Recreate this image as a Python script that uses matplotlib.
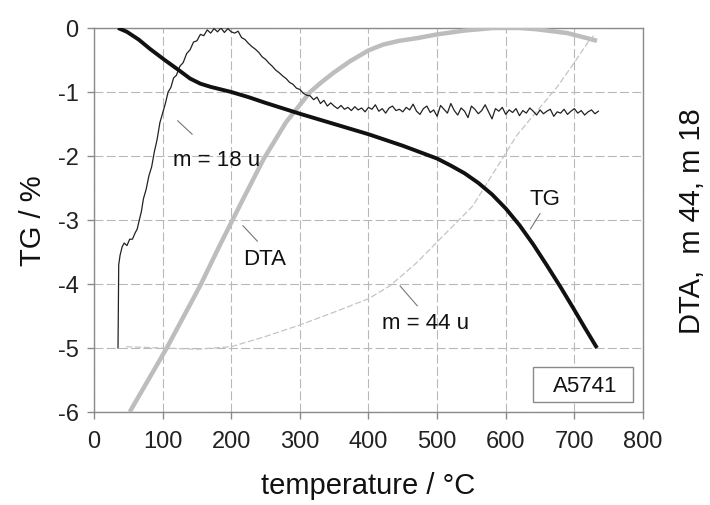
import matplotlib
matplotlib.use("Agg")
import matplotlib.pyplot as plt
from matplotlib.patches import Rectangle

plt.rcParams['font.family'] = ['Liberation Sans', 'DejaVu Sans']
plt.rcParams['axes.unicode_minus'] = False

# TG curve (left axis, %)
tg_temp = [35, 48, 65, 82, 103, 125, 140, 155, 170, 185, 200, 225, 250, 300, 350, 400, 450, 500,
           520, 540, 560, 580, 600, 620, 640, 660, 680, 698, 715, 733]
tg = [0.0, -0.06, -0.18, -0.33, -0.5, -0.67, -0.79, -0.87, -0.92, -0.96, -1.0, -1.08, -1.17, -1.34, -1.5, -1.66, -1.84, -2.04,
      -2.15, -2.27, -2.42, -2.6, -2.82, -3.08, -3.38, -3.71, -4.05, -4.37, -4.68, -5.0]

# DTA curve (arbitrary units, plotted in same frame)
dta_temp = [52, 106, 155, 184, 216, 247, 280, 315, 330, 349, 373, 400, 421, 445, 470, 500, 540, 582, 620, 645, 690, 733]
dta = [-6.0, -5.0, -4.02, -3.38, -2.7, -2.05, -1.47, -1.0, -0.86, -0.7, -0.52, -0.35, -0.26, -0.2, -0.16, -0.1, -0.04, 0.0, 0.0, -0.02, -0.08, -0.2]

# m = 44 u ion current
m44_temp = [47, 100, 150, 200, 250, 300, 350, 400, 431, 470, 504, 530, 552, 580, 616, 650, 675, 700, 720, 728]
m44 = [-4.98, -5.0, -5.02, -4.98, -4.82, -4.64, -4.44, -4.23, -4.03, -3.67, -3.3, -3.02, -2.78, -2.3, -1.68, -1.24, -0.92, -0.54, -0.22, -0.12]

# m = 18 u ion current (noisy)
m18_temp = [35, 35.5, 36, 38, 41, 44, 48, 52, 56, 60, 63, 66, 69, 72, 76, 80, 84, 88, 92, 96,
            100, 104, 108, 112, 116, 120, 125, 130, 135, 140, 145, 150, 155, 160, 165, 170, 175, 180, 185, 190,
            195, 200, 205, 210, 215, 220, 225, 230, 235, 240, 245, 250, 255, 260, 265, 270, 275, 280, 285, 290,
            295, 300, 305, 310, 315, 320, 325, 330, 335, 340, 345,
            350, 355, 360, 365, 370, 375, 380, 385, 390, 395,
            400, 405, 410, 415, 420, 425, 430, 435, 440, 445,
            450, 455, 460, 465, 470, 475, 480, 485, 490, 495,
            500, 505, 510, 515, 520, 525, 530, 535, 540, 545,
            550, 555, 560, 565, 570, 575, 580, 585, 590, 595,
            600, 605, 610, 615, 620, 625, 630, 635, 640, 645,
            650, 655, 660, 665, 670, 675, 680, 685, 690, 695,
            700, 705, 710, 715, 720, 725, 730, 735]
m18 = [-5.0, -4.3, -3.7, -3.55, -3.42, -3.36, -3.4, -3.3, -3.3, -3.2, -3.14, -3.0, -2.87, -2.67, -2.52, -2.31, -2.17, -1.93, -1.74, -1.48,
       -1.33, -1.18, -1.0, -0.93, -0.78, -0.74, -0.6, -0.54, -0.4, -0.34, -0.22, -0.2, -0.1, -0.12, -0.03, -0.08, -0.01, -0.06, 0.0, -0.07,
       -0.01, -0.06, -0.08, -0.05, -0.15, -0.18, -0.24, -0.29, -0.33, -0.38, -0.45, -0.49, -0.55, -0.6, -0.66, -0.7, -0.75, -0.79, -0.85, -0.88,
       -0.94, -0.96, -1.02, -1.05, -1.06, -1.12, -1.08, -1.18, -1.13, -1.22, -1.17,
       -1.22, -1.26, -1.21, -1.27, -1.24, -1.29, -1.23, -1.28, -1.25, -1.31,
       -1.24, -1.27, -1.20, -1.30, -1.26, -1.33, -1.25, -1.22, -1.29, -1.27,
       -1.31, -1.24, -1.28, -1.19, -1.30, -1.35, -1.26, -1.22, -1.32, -1.28,
       -1.38, -1.21, -1.27, -1.33, -1.18, -1.29, -1.36, -1.25, -1.30, -1.40,
       -1.22, -1.27, -1.34, -1.29, -1.20, -1.31, -1.42, -1.26, -1.30, -1.24,
       -1.35, -1.28, -1.32, -1.26, -1.37, -1.29, -1.33, -1.25, -1.30, -1.36,
       -1.28, -1.34, -1.30, -1.27, -1.38, -1.31, -1.33, -1.27, -1.35, -1.30,
       -1.26, -1.33, -1.29, -1.36, -1.31, -1.28, -1.34, -1.30]

fig = plt.figure(figsize=(7.1, 5.06), dpi=100)
ax = fig.add_axes([0.1324, 0.1838, 0.7732, 0.7589])

ax.plot(dta_temp, dta, color='#bdbdbd', lw=3.2, solid_capstyle='butt', zorder=3)
ax.plot(m44_temp, m44, color='#c4c4c4', lw=0.9, ls=(0, (5, 2)), zorder=3)
ax.plot(m18_temp, m18, color='#222222', lw=0.9, zorder=4)
ax.plot(tg_temp, tg, color='#111111', lw=2.8, solid_capstyle='butt', zorder=5)

ax.set_xlim(0, 800)
ax.set_ylim(-6, 0)
ax.set_xticks(range(0, 801, 100))
ax.set_yticks(range(-6, 1, 1))
ax.grid(True, color='#b8b8b8', lw=0.8, ls=(0, (8, 3)))
ax.set_axisbelow(True)
for s in ax.spines.values():
    s.set_color('#8a8a8a')
    s.set_linewidth(1.0)
ax.tick_params(colors='#8a8a8a', labelcolor='#222222', labelsize=17, length=5, width=1)
ax.tick_params(axis='x', pad=8)
ax.tick_params(axis='y', pad=6)

ax.set_xlabel('temperature / °C', fontsize=21, color='#111111', labelpad=14)
ax.set_ylabel('TG / %', fontsize=21, color='#111111', labelpad=8)
fig.text(0.975, 0.5638, 'DTA,  m 44, m 18', rotation=90, fontsize=21,
         color='#111111', ha='center', va='center')

# curve labels with leader lines
lead = dict(color='#777777', lw=0.8)
ax.plot([122, 143], [-1.45, -1.66], **lead)
ax.text(178, -2.05, 'm = 18 u', fontsize=16, ha='center', va='center', color='#111111')
ax.plot([217, 238], [-3.09, -3.33], **lead)
ax.text(248, -3.6, 'DTA', fontsize=16, ha='center', va='center', color='#111111')
ax.plot([650, 636], [-2.9, -3.14], **lead)
ax.text(657, -2.67, 'TG', fontsize=16, ha='center', va='center', color='#111111')
ax.plot([446, 471], [-4.03, -4.34], **lead)
ax.text(483, -4.6, 'm = 44 u', fontsize=16, ha='center', va='center', color='#111111')

ax.add_patch(Rectangle((0.800, 0.026), 0.182, 0.091, transform=ax.transAxes,
                       facecolor='white', edgecolor='#8a8a8a', lw=1.0, zorder=6))
ax.text(0.895, 0.07, 'A5741', transform=ax.transAxes, fontsize=16,
        ha='center', va='center', color='#111111', zorder=7)

fig.savefig('out.png', dpi=100, facecolor='white')
